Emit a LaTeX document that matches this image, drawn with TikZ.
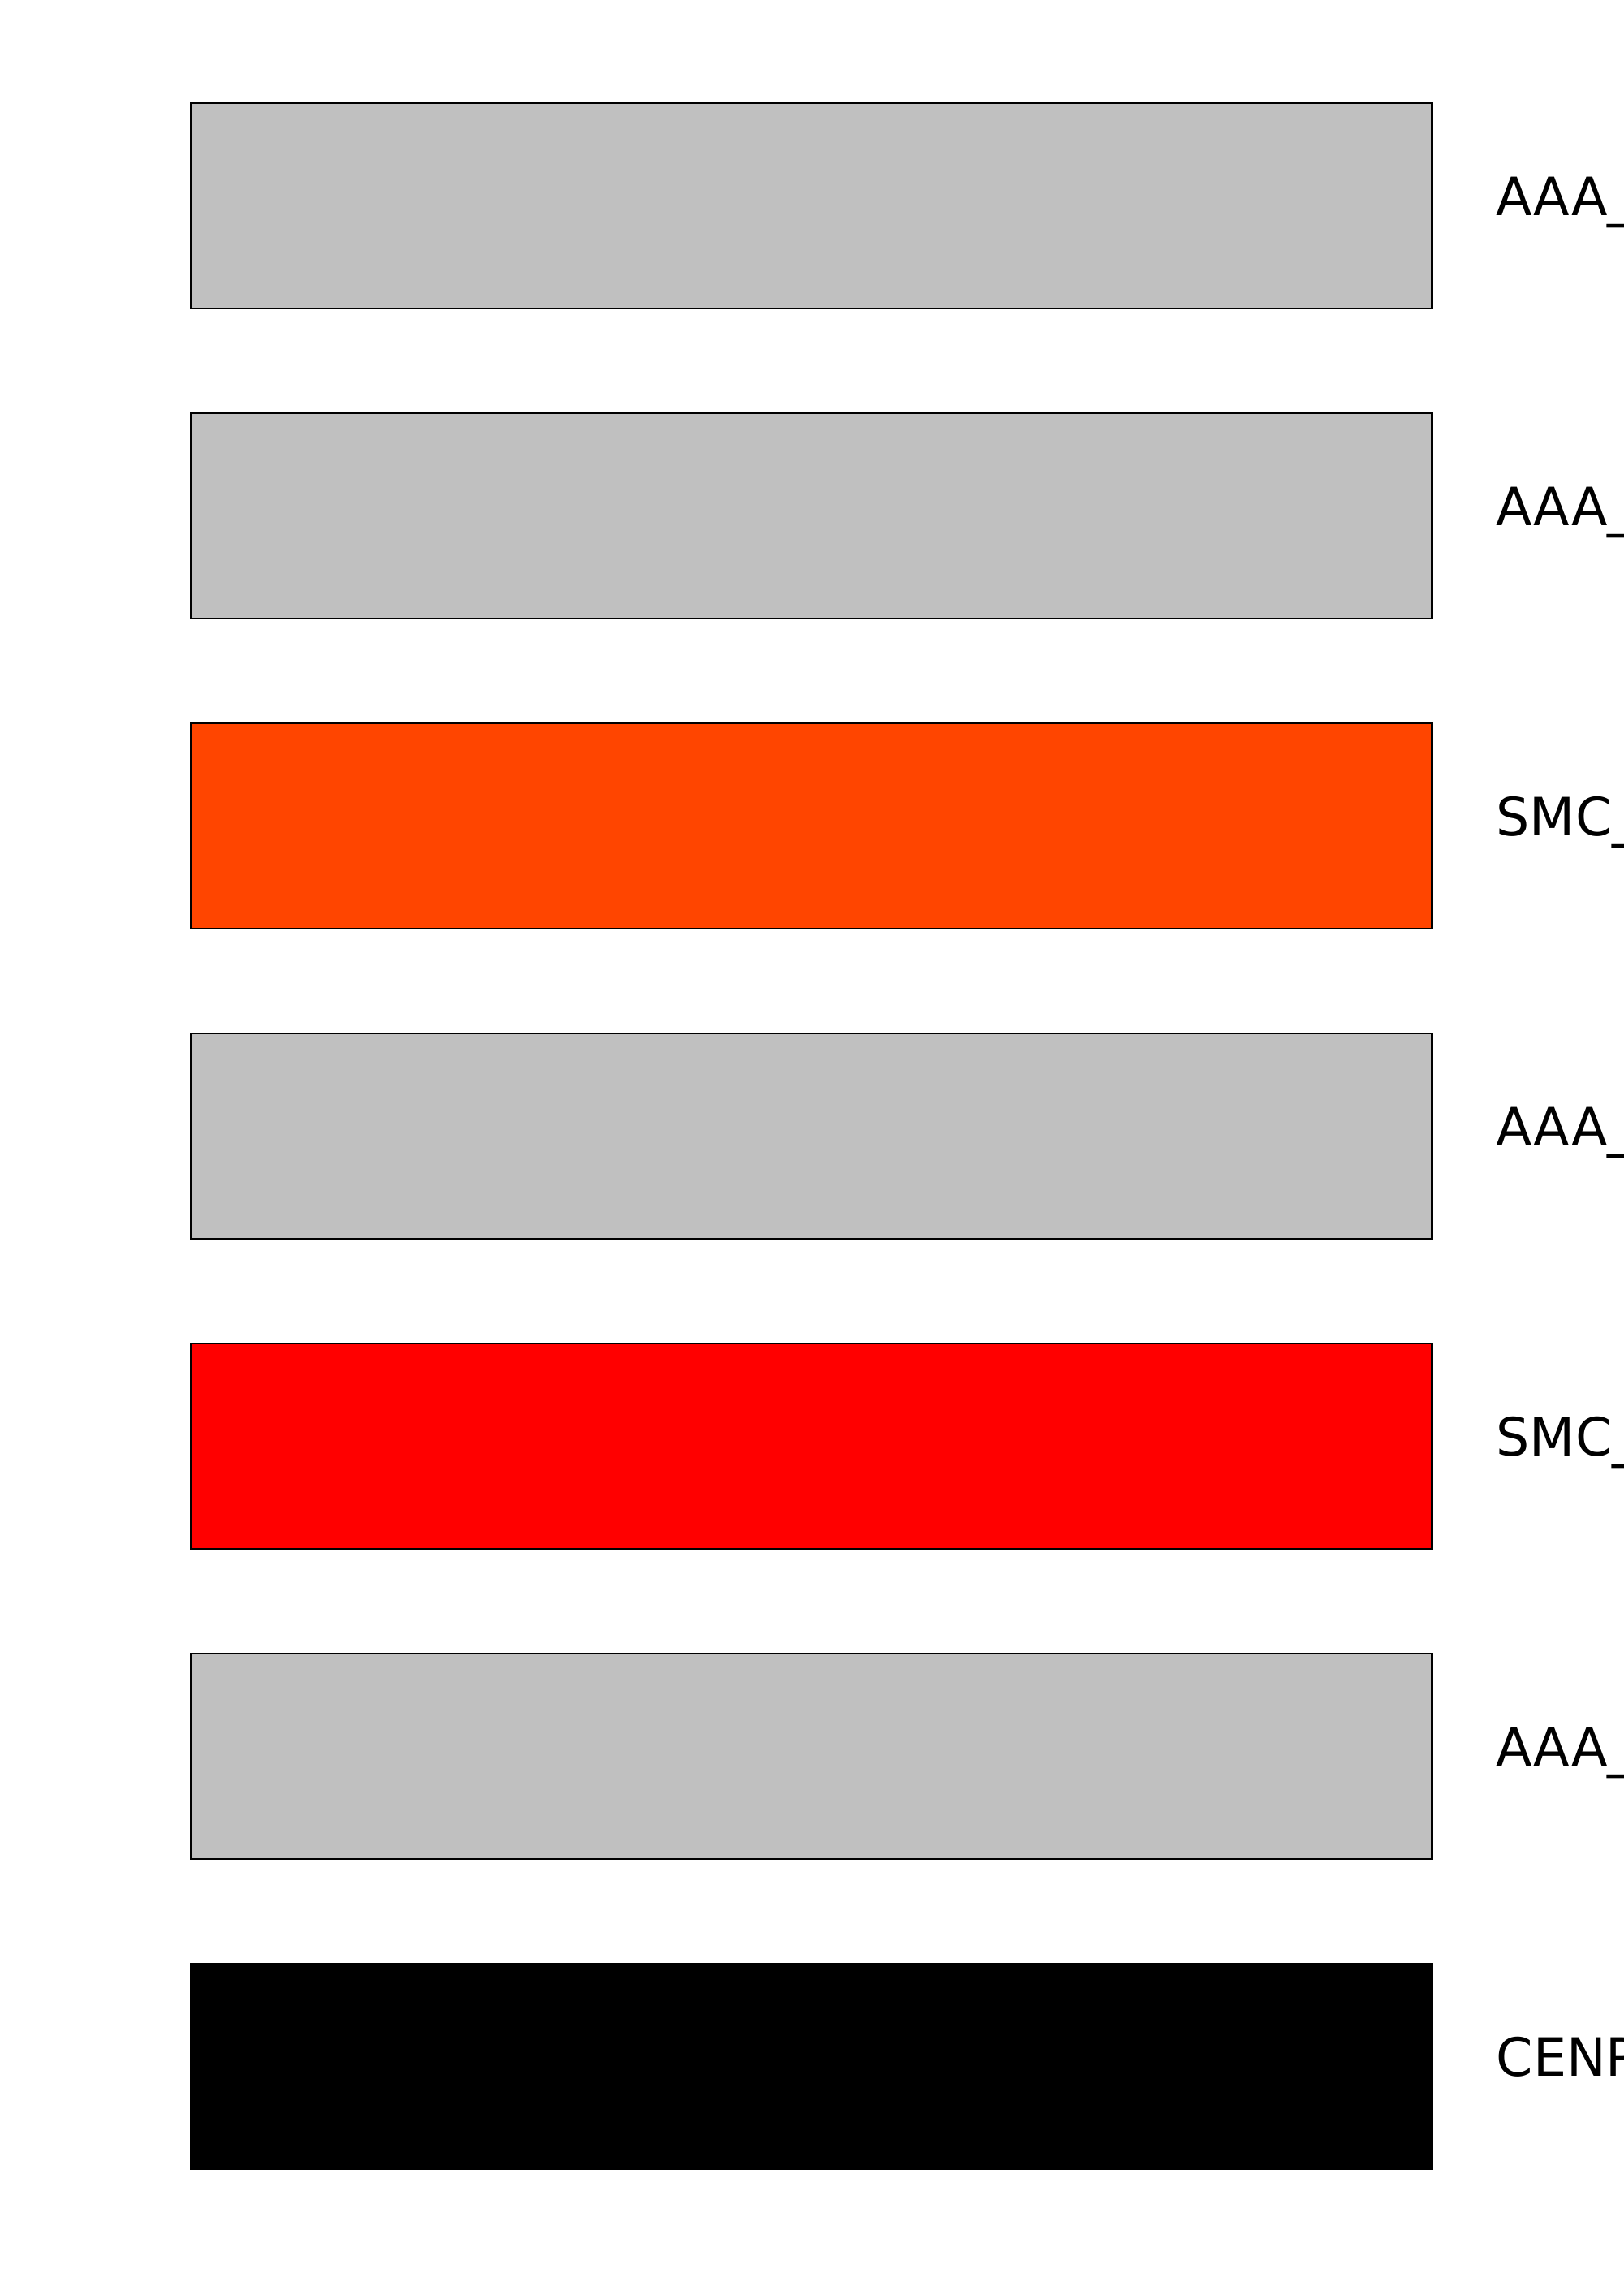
\documentclass[tikz,border=0pt]{standalone}
\usepackage{fontspec}
\setmainfont{DejaVu Sans}
\definecolor{silvergray}{HTML}{C0C0C0}
\definecolor{orangered}{HTML}{FF4500}
\definecolor{purered}{HTML}{FF0000}
\tikzset{
  bar/.style={rectangle, draw=black, line width=0.8pt, inner sep=0pt,
    minimum width=15.29cm, minimum height=2.53cm},
  lbl/.style={anchor=base west, inner sep=0pt, font=\fontsize{18.5}{22}\selectfont}
}
\begin{document}
\begin{tikzpicture}
  \clip (0,0) rectangle (20,-28);
  % バー
  \node[bar, fill=silvergray] (b1) at (10.0,-2.535) {};
  \node[bar, fill=silvergray] (b2) at (10.0,-6.355) {};
  \node[bar, fill=orangered] (b3) at (10.0,-10.175) {};
  \node[bar, fill=silvergray] (b4) at (10.0,-13.995) {};
  \node[bar, fill=purered] (b5) at (10.0,-17.815) {};
  \node[bar, fill=silvergray] (b6) at (10.0,-21.635) {};
  \node[bar, fill=black] (b7) at (10.0,-25.455) {};

  % ラベル
  \node[lbl] (l1) at ([xshift=0.77cm, yshift=-0.12cm]b1.east) {AAA\_};
  \node[lbl] (l2) at ([xshift=0.77cm, yshift=-0.12cm]b2.east) {AAA\_};
  \node[lbl] (l3) at ([xshift=0.77cm, yshift=-0.12cm]b3.east) {SMC\_};
  \node[lbl] (l4) at ([xshift=0.77cm, yshift=-0.12cm]b4.east) {AAA\_};
  \node[lbl] (l5) at ([xshift=0.77cm, yshift=-0.12cm]b5.east) {SMC\_};
  \node[lbl] (l6) at ([xshift=0.77cm, yshift=-0.12cm]b6.east) {AAA\_};
  \node[lbl] (l7) at ([xshift=0.77cm, yshift=-0.12cm]b7.east) {CENP};
\end{tikzpicture}
\end{document}
